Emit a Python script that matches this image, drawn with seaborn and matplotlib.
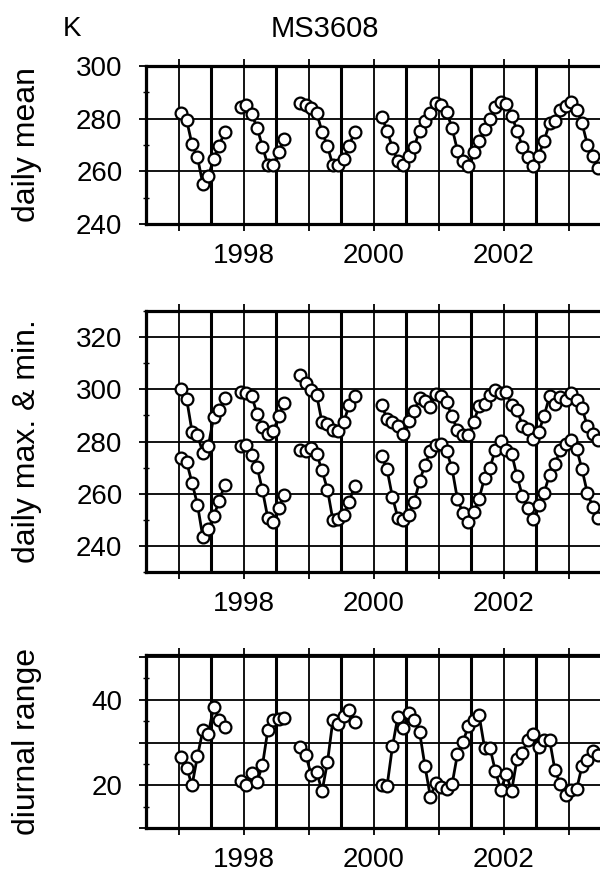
import numpy as np
import pandas as pd
import matplotlib
matplotlib.use("Agg")
import matplotlib.pyplot as plt
from matplotlib.ticker import MultipleLocator, FuncFormatter
import seaborn as sns

# first month of each continuous piece of record (gaps in between)
seg_start = [(1997, 7), (1998, 6), (1999, 5), (2000, 8)]

daily_mean = [
    [282.3, 279.5, 270.2, 265.4, 255.1, 258.1, 264.8, 269.8, 274.8],
    [284.5, 285.2, 281.8, 276.6, 269.4, 262.3, 262.3, 267.3, 272.2],
    [286.1, 285.3, 284.0, 282.2, 275.1, 269.5, 262.3, 262.3, 264.6, 269.7, 275.0],
    [280.8, 275.5, 268.9, 263.8, 262.3, 266.0, 269.2, 275.5, 279.2, 282.1,
     285.8, 285.2, 282.6, 276.5, 267.9, 264.1, 262.0, 267.3, 271.4, 276.1,
     279.9, 284.3, 286.2, 285.5, 281.1, 275.5, 269.2, 265.4, 262.0, 266.0,
     271.7, 278.2, 279.2, 283.3, 284.9, 286.5, 283.3, 278.2, 270.1, 265.7, 261.4],
]

daily_max = [
    [300.1, 296.3, 283.8, 282.5, 275.7, 278.2, 289.4, 291.9, 296.5],
    [298.8, 298.5, 297.5, 290.7, 285.6, 282.7, 283.9, 289.6, 294.7],
    [305.3, 302.6, 299.8, 297.9, 287.3, 286.6, 284.3, 283.9, 287.3, 294.0, 297.3],
    [294.0, 288.6, 287.3, 285.8, 283.0, 288.0, 291.5, 296.6, 295.4, 293.2,
     298.3, 297.5, 295.0, 289.6, 284.3, 282.3, 282.3, 287.3, 293.7, 294.2,
     297.9, 299.8, 298.5, 298.8, 294.1, 292.2, 286.1, 284.6, 281.0, 283.6,
     289.9, 297.3, 294.5, 296.9, 296.0, 298.5, 296.0, 292.8, 285.8, 282.7, 280.5],
]

daily_min = [
    [273.8, 272.1, 264.2, 255.8, 243.3, 246.3, 251.4, 257.2, 263.2],
    [278.2, 278.7, 274.9, 270.4, 261.3, 250.6, 249.3, 254.5, 259.6],
    [276.7, 276.2, 277.7, 275.3, 268.9, 261.6, 249.9, 250.4, 251.7, 256.8, 263.1],
    [274.4, 269.3, 258.7, 250.7, 249.9, 252.0, 256.8, 264.7, 271.1, 276.3,
     278.5, 279.1, 276.3, 269.7, 257.8, 252.7, 249.1, 253.0, 258.1, 266.1,
     269.9, 276.9, 280.1, 276.9, 275.4, 266.7, 259.1, 254.6, 250.2, 255.5,
     260.4, 267.3, 271.5, 276.9, 278.9, 280.4, 277.2, 269.3, 260.1, 255.0, 250.6],
]

diurnal_range = [
    [26.6, 24.1, 20.0, 26.8, 32.9, 32.1, 38.4, 35.3, 33.6],
    [21.0, 20.1, 22.9, 20.8, 24.7, 33.0, 35.3, 35.6, 35.7],
    [29.0, 27.0, 22.5, 23.2, 18.6, 25.4, 35.2, 34.3, 36.3, 37.7, 34.8],
    [20.1, 19.8, 29.1, 36.1, 33.4, 36.9, 35.3, 32.5, 24.5, 17.3,
     20.5, 19.6, 19.2, 20.2, 27.3, 30.1, 33.8, 35.3, 36.4, 28.8,
     28.8, 23.3, 18.9, 22.6, 18.7, 26.2, 27.6, 30.7, 31.9, 28.9,
     30.7, 30.7, 23.5, 20.2, 17.7, 18.8, 19.1, 24.5, 26.0, 28.1, 27.2],
]


def to_frame(segments):
    rows = []
    for k, (start, vals) in enumerate(zip(seg_start, segments)):
        y0, m0 = start
        for i, v in enumerate(vals):
            m = m0 - 1 + i
            t = y0 + m // 12 + ((m % 12) + 0.5) / 12
            rows.append({"t": t, "v": v, "seg": k})
    return pd.DataFrame(rows)


sns.set_style("ticks")
plt.rcParams["font.family"] = ["Liberation Sans", "DejaVu Sans"]
plt.rcParams["font.size"] = 20
for key in ("text.color", "axes.labelcolor", "xtick.color", "ytick.color"):
    plt.rcParams[key] = "black"

W, H = 600, 876
fig = plt.figure(figsize=(W / 100, H / 100), dpi=100)

# axes boxes in pixels: (top, bottom)
boxes = [(66, 224), (311, 572), (655, 828)]
left_px = 146
axes = []
for top, bot in boxes:
    ax = fig.add_axes([left_px / W, 1 - bot / H, (W - left_px) / W, (bot - top) / H])
    axes.append(ax)

style = dict(color="black", lw=2.0, marker="o", markersize=8.5,
             markerfacecolor="white", markeredgecolor="black", markeredgewidth=1.6)

sns.lineplot(data=to_frame(daily_mean), x="t", y="v", units="seg",
             estimator=None, ax=axes[0], **style)
sns.lineplot(data=to_frame(daily_max), x="t", y="v", units="seg",
             estimator=None, ax=axes[1], **style)
sns.lineplot(data=to_frame(daily_min), x="t", y="v", units="seg",
             estimator=None, ax=axes[1], **style)
sns.lineplot(data=to_frame(diurnal_range), x="t", y="v", units="seg",
             estimator=None, ax=axes[2], **style)

ylims = [(240, 300), (230, 330), (10, 50.5)]
ysteps = [20, 20, 10]
ylabels = ["daily mean", "daily max. & min.", "diurnal range"]

year_fmt = FuncFormatter(lambda x, p: f"{int(np.floor(x))}" if int(np.floor(x)) % 2 == 0 else "")

for ax, yl, ys, lab in zip(axes, ylims, ysteps, ylabels):
    ax.set_xlim(1997.0, 1997.0 + (W - left_px) / 65)
    ax.set_ylim(*yl)
    ax.xaxis.set_major_locator(MultipleLocator(1))
    ax.xaxis.set_minor_locator(MultipleLocator(0.5))
    ax.xaxis.set_major_formatter(FuncFormatter(lambda x, p: ""))
    ax.xaxis.set_minor_formatter(year_fmt)
    ax.yaxis.set_major_locator(MultipleLocator(ys))
    ax.yaxis.set_minor_locator(MultipleLocator(ys / 2))
    if ys == 10:
        ax.yaxis.set_major_formatter(FuncFormatter(lambda y, p: f"{int(y)}" if int(y) in (20, 40) else ""))

    ax.grid(which="major", axis="x", color="black", lw=2.2)
    ax.grid(which="minor", axis="x", color="black", lw=1.3)
    ax.grid(which="major", axis="y", color="black", lw=1.3)
    ax.set_axisbelow(True)

    ax.tick_params(axis="x", which="major", length=0, labelsize=20)
    ax.tick_params(axis="x", which="minor", top=True, bottom=True, direction="out",
                   length=5, width=1.3, labelsize=20, pad=9)
    ax.tick_params(axis="y", which="major", direction="out", length=5, width=1.3,
                   labelsize=20, pad=12)
    ax.tick_params(axis="y", which="minor", direction="inout", length=4, width=1)

    # monthly ticks along top and bottom
    for side in ("bottom", "top"):
        sec = ax.secondary_xaxis(side)
        sec.set_xticks(np.arange(1997, 2004.01, 1 / 12))
        sec.set_xticklabels([])
        sec.tick_params(direction="inout", length=2, width=0.7)
        for s in sec.spines.values():
            s.set_visible(False)

    for s in ("left", "top", "bottom"):
        ax.spines[s].set_linewidth(2.3)
        ax.spines[s].set_color("black")
    ax.spines["right"].set_visible(False)

    ax.set_xlabel("")
    ax.set_ylabel(lab, fontsize=23)
    ax.yaxis.set_label_coords((42 - left_px) / (W - left_px), 0.5)

fig.text(63 / W, 1 - 29 / H, "K", fontsize=20, ha="left", va="center")
fig.text(325 / W, 1 - 29 / H, "MS3608", fontsize=21, ha="center", va="center")

fig.savefig("out.png", dpi=100)
